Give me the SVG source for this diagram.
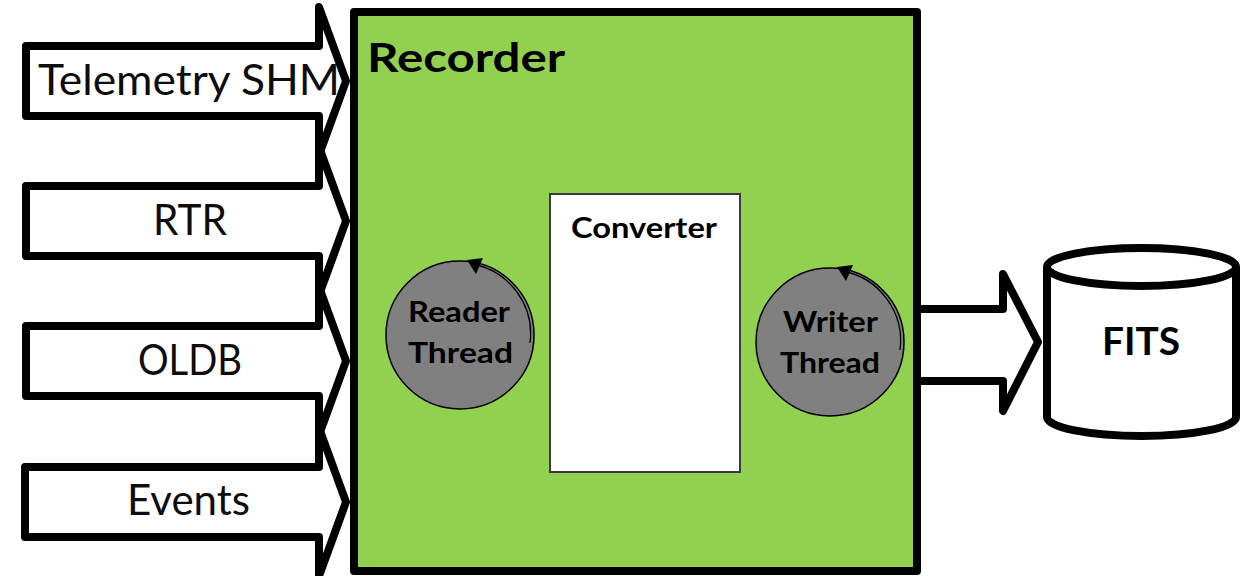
<svg xmlns="http://www.w3.org/2000/svg" width="1248" height="576" viewBox="0 0 1248 576">
  <style>
    .blk { fill: #ffffff; stroke: #000000; stroke-width: 8; stroke-linejoin: round; }
    .lbl { font-family: Lato, "Open Sans", sans-serif; font-size: 42px; fill: #0d0d0d; }
    .bold { font-family: Lato, "Open Sans", sans-serif; font-weight: bold; fill: #000000; }
    .thread { fill: #808080; stroke: #000000; stroke-width: 1.5; }
    .arc { fill: none; stroke: #000000; stroke-width: 1.3; }
  </style>
  <rect width="1248" height="576" fill="#ffffff"/>
  <g id="connectors">
    <g id="in-telemetry">
      <path class="blk" d="M26,46 L319,46 L319,7 L346,81 L319,155 L319,116 L26,116 Z"/>
      <text class="lbl" x="38" y="95" textLength="302" lengthAdjust="spacingAndGlyphs">Telemetry SHM</text>
    </g>
    <g id="in-rtr">
      <path class="blk" d="M26,186 L319,186 L319,147 L346,221 L319,295 L319,256 L26,256 Z"/>
      <text class="lbl" x="153" y="235" textLength="74" lengthAdjust="spacingAndGlyphs">RTR</text>
    </g>
    <g id="in-oldb">
      <path class="blk" d="M26,326 L319,326 L319,287 L346,361 L319,435 L319,396 L26,396 Z"/>
      <text class="lbl" x="138" y="375" textLength="104" lengthAdjust="spacingAndGlyphs">OLDB</text>
    </g>
    <g id="in-events">
      <path class="blk" d="M25,467 L319,467 L319,428 L346,502 L319,576 L319,537 L25,537 Z"/>
      <text class="lbl" x="127" y="515" textLength="123" lengthAdjust="spacingAndGlyphs">Events</text>
    </g>
    <g id="out-fits">
      <path class="blk" d="M917,309 L1003,309 L1003,274 L1038,342 L1003,411 L1003,381 L917,381 Z"/>
    </g>
  </g>
  <g id="recorder">
    <rect x="354" y="12" width="563" height="559" fill="#92d050" stroke="#000000" stroke-width="8" stroke-linejoin="round"/>
    <text class="bold" x="367" y="72" font-size="41" textLength="198" lengthAdjust="spacingAndGlyphs">Recorder</text>
  </g>
  <g id="converter">
    <rect x="550" y="194" width="190" height="278" fill="#ffffff" stroke="#3a3a3a" stroke-width="2"/>
    <text class="bold" x="571" y="238" font-size="29" textLength="146" lengthAdjust="spacingAndGlyphs">Converter</text>
  </g>
  <g id="reader-thread">
    <circle class="thread" cx="460" cy="335" r="74"/>
    <path class="arc" d="M472,264 A71,71 0 0 1 530,343"/>
    <polygon points="467,260 483,258 476,274" fill="#000000"/>
    <text class="bold" x="408" y="322" font-size="28" textLength="102" lengthAdjust="spacingAndGlyphs">Reader</text>
    <text class="bold" x="408" y="363" font-size="28" textLength="105" lengthAdjust="spacingAndGlyphs">Thread</text>
  </g>
  <g id="writer-thread">
    <circle class="thread" cx="830" cy="342" r="74"/>
    <path class="arc" d="M842,271 A71,71 0 0 1 900,350"/>
    <polygon points="837,267 853,265 846,281" fill="#000000"/>
    <text class="bold" x="783" y="332" font-size="28" textLength="95" lengthAdjust="spacingAndGlyphs">Writer</text>
    <text class="bold" x="780" y="373" font-size="28" textLength="100" lengthAdjust="spacingAndGlyphs">Thread</text>
  </g>
  <g id="fits">
    <path class="blk" d="M1047,267 L1047,417 A94.5,19 0 0 0 1236,417 L1236,267"/>
    <ellipse class="blk" cx="1141.5" cy="267" rx="94.5" ry="19"/>
    <text class="bold" x="1102" y="355" font-size="38" textLength="78" lengthAdjust="spacingAndGlyphs">FITS</text>
  </g>
</svg>
